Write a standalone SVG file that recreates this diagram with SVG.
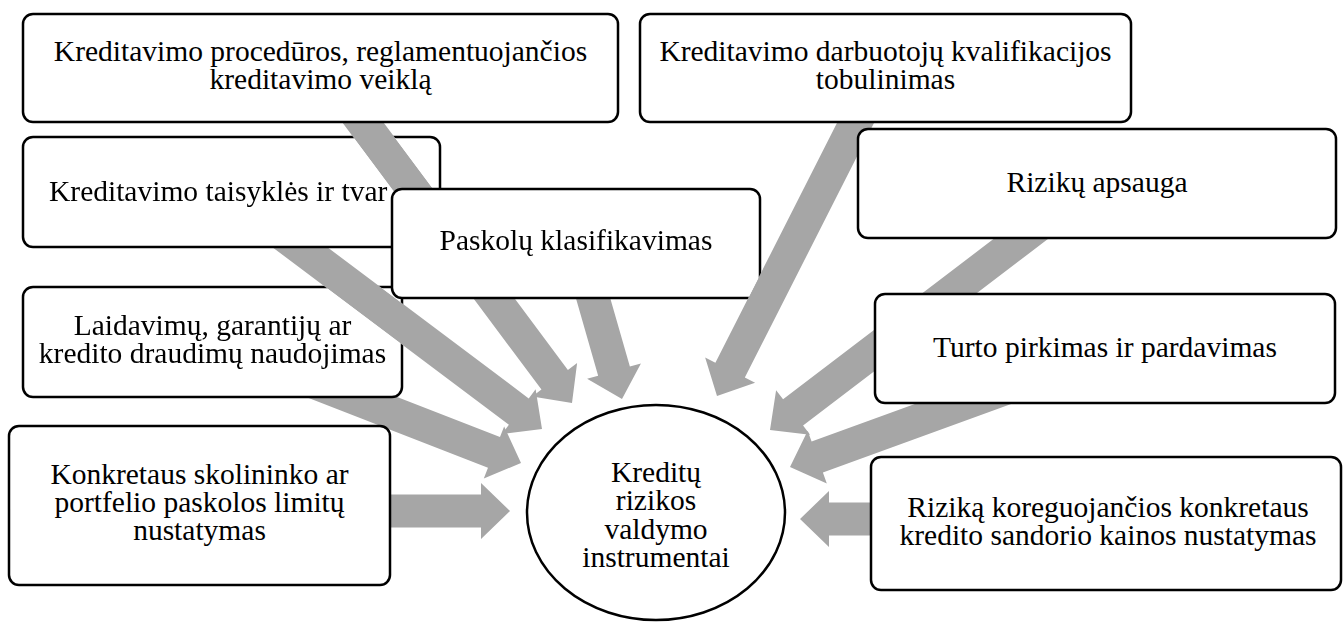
<svg xmlns="http://www.w3.org/2000/svg" width="1343" height="623" viewBox="0 0 1343 623" font-family="'Liberation Serif', 'DejaVu Serif', serif">
  <style>
    text { font-family: 'Liberation Serif', 'DejaVu Serif', serif; font-size: 29.5px; fill: #000; text-anchor: middle; }
    text.left { text-anchor: start; }
    .box { fill: #fff; stroke: #000; stroke-width: 2.5; }
    .hub { fill: #fff; stroke: #000; stroke-width: 2.5; }
    #connectors { fill: #a6a6a6; }
  </style>
  <defs>
    <!-- where an arrow runs over a box, that box is cut open so the arrow below shows through -->
    <mask id="cut-rules" maskUnits="userSpaceOnUse" x="0" y="0" width="1343" height="623">
      <rect width="1343" height="623" fill="#fff"/>
      <use href="#arrow-procedures" fill="#000"/>
    </mask>
    <mask id="cut-guarantees" maskUnits="userSpaceOnUse" x="0" y="0" width="1343" height="623">
      <rect width="1343" height="623" fill="#fff"/>
      <use href="#arrow-rules" fill="#000"/>
    </mask>
    <mask id="cut-classification" maskUnits="userSpaceOnUse" x="0" y="0" width="1343" height="623">
      <rect width="1343" height="623" fill="#fff"/>
      <use href="#arrow-staff" fill="#000"/>
    </mask>
  </defs>

  <!-- wide grey block arrows converging on the central ellipse; each outline has its tip at the origin pointing along +x -->
  <g id="connectors">
    <path id="arrow-procedures" d="M-378,-16.5 H-29 V-28 L0,0 L-29,28 V16.5 H-378 Z" transform="translate(572,403) rotate(53.3)"/>
    <path id="arrow-rules" d="M-356,-16.5 H-29 V-28 L0,0 L-29,28 V16.5 H-356 Z" transform="translate(542,429) rotate(36.9)"/>
    <path id="arrow-classification" d="M-140,-16.5 H-29 V-28 L0,0 L-29,28 V16.5 H-140 Z" transform="translate(622,399) rotate(74)"/>
    <path id="arrow-guarantees" d="M-256,-16.5 H-29 V-28 L0,0 L-29,28 V16.5 H-256 Z" transform="translate(521,463) rotate(21.3)"/>
    <path id="arrow-limits" d="M-150,-16.5 H-29 V-28 L0,0 L-29,28 V16.5 H-150 Z" transform="translate(510,511)"/>
    <path id="arrow-staff" d="M-338,-16.5 H-29 V-28 L0,0 L-29,28 V16.5 H-338 Z" transform="translate(717,396) rotate(116.9)"/>
    <path id="arrow-protection" d="M-380,-16.5 H-29 V-28 L0,0 L-29,28 V16.5 H-380 Z" transform="translate(770,430) rotate(142.7)"/>
    <path id="arrow-assets" d="M-335,-16.5 H-29 V-28 L0,0 L-29,28 V16.5 H-335 Z" transform="translate(790,467) rotate(160)"/>
    <path id="arrow-pricing" d="M-110,-16.5 H-29 V-28 L0,0 L-29,28 V16.5 H-110 Z" transform="translate(800,519) rotate(180)"/>
  </g>

  <g id="node-guarantees" mask="url(#cut-guarantees)">
    <rect class="box" x="23" y="287" width="379" height="110" rx="10"/>
    <text x="212.5" y="335">Laidavimų, garantijų ar<tspan x="212.5" dy="28">kredito draudimų naudojimas</tspan></text>
  </g>

  <g id="node-rules" mask="url(#cut-rules)">
    <rect class="box" x="23" y="137" width="417" height="110" rx="10"/>
    <text class="left" x="49" y="201">Kreditavimo taisyklės ir tvar</text>
  </g>

  <g id="node-procedures">
    <rect class="box" x="23" y="14" width="595" height="108" rx="10"/>
    <text x="320.5" y="61">Kreditavimo procedūros, reglamentuojančios<tspan x="320.5" dy="28">kreditavimo veiklą</tspan></text>
  </g>

  <g id="node-classification" mask="url(#cut-classification)">
    <rect class="box" x="392" y="189" width="368" height="109" rx="10"/>
    <text x="576" y="250">Paskolų klasifikavimas</text>
  </g>

  <g id="node-staff">
    <rect class="box" x="640" y="14" width="491" height="108" rx="10"/>
    <text x="885.5" y="61">Kreditavimo darbuotojų kvalifikacijos<tspan x="885.5" dy="28">tobulinimas</tspan></text>
  </g>

  <g id="node-protection">
    <rect class="box" x="858" y="129" width="478" height="109" rx="10"/>
    <text x="1097" y="192">Rizikų apsauga</text>
  </g>

  <g id="node-assets">
    <rect class="box" x="875" y="294" width="460" height="109" rx="10"/>
    <text x="1105" y="357">Turto pirkimas ir pardavimas</text>
  </g>

  <g id="node-pricing">
    <rect class="box" x="871" y="457" width="470" height="133" rx="10"/>
    <text x="1108" y="517">Riziką koreguojančios konkretaus<tspan x="1108" dy="28">kredito sandorio kainos nustatymas</tspan></text>
  </g>

  <g id="node-limits">
    <rect class="box" x="9" y="426" width="381" height="159" rx="10"/>
    <text x="199.5" y="484">Konkretaus skolininko ar<tspan x="199.5" dy="28">portfelio paskolos limitų</tspan><tspan x="199.5" dy="28">nustatymas</tspan></text>
  </g>

  <g id="node-hub">
    <ellipse class="hub" cx="656" cy="512.5" rx="129" ry="107.5"/>
    <text x="656" y="482">Kreditų<tspan x="656" dy="28.3">rizikos</tspan><tspan x="656" dy="28.3">valdymo</tspan><tspan x="656" dy="28.3">instrumentai</tspan></text>
  </g>
</svg>
